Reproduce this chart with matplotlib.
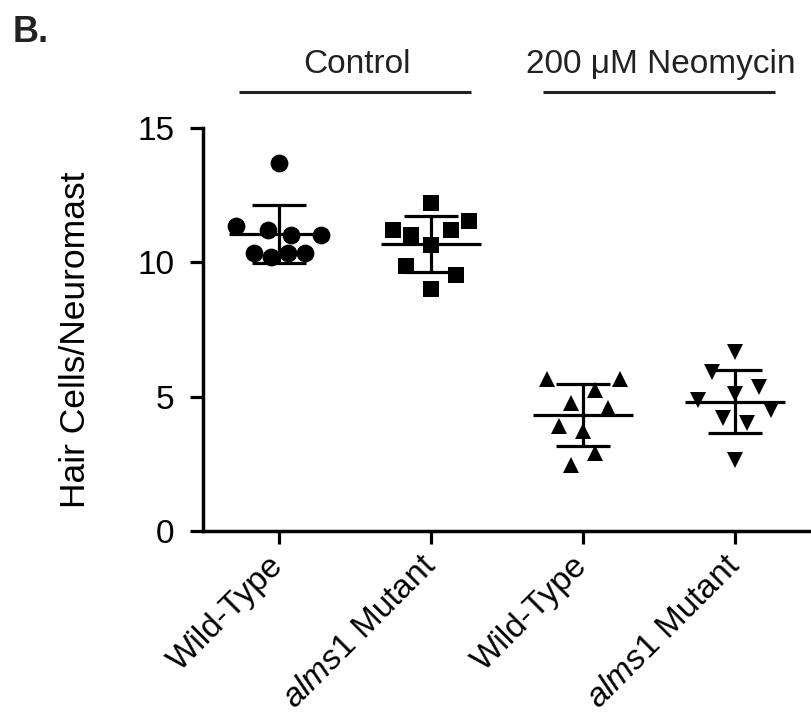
import numpy as np
import matplotlib
matplotlib.use("Agg")
import matplotlib.pyplot as plt
import matplotlib.transforms as mtransforms

plt.rcParams['font.family'] = ['Liberation Sans', 'DejaVu Sans']
plt.rcParams['mathtext.fontset'] = 'custom'
plt.rcParams['mathtext.it'] = 'Liberation Sans:italic'
plt.rcParams['mathtext.rm'] = 'Liberation Sans'

# values (hair cells per neuromast)
wt_ctrl = [13.70, 11.37, 11.20, 11.03, 11.00, 10.35, 10.20, 10.35, 10.35]
wt_ctrl_dx = [0.0, -0.283, -0.075, 0.079, 0.276, -0.162, -0.053, 0.061, 0.171]
mut_ctrl = [12.19, 11.53, 11.20, 11.03, 11.20, 10.66, 9.86, 9.51, 9.01]
mut_ctrl_dx = [0.0, 0.252, -0.252, -0.132, 0.132, 0.0, -0.164, 0.164, 0.0]
wt_neo = [5.64, 5.64, 5.24, 4.77, 4.58, 3.90, 3.71, 2.91, 2.44]
wt_neo_dx = [-0.237, 0.243, 0.081, -0.079, 0.162, -0.160, 0.0, 0.081, -0.079]
mut_neo = [6.67, 5.91, 5.37, 5.08, 4.89, 4.52, 4.21, 4.03, 2.66]
mut_neo_dx = [0.0, -0.153, 0.160, 0.0, -0.241, 0.237, -0.081, 0.079, 0.0]

groups = [wt_ctrl, mut_ctrl, wt_neo, mut_neo]
offsets = [wt_ctrl_dx, mut_ctrl_dx, wt_neo_dx, mut_neo_dx]
markers = ['o', 's', '^', 'v']
msizes = [12.8, 11.8, 12, 12]
tick_labels = ['Wild-Type', r'$\mathit{alms1}$ Mutant', 'Wild-Type', r'$\mathit{alms1}$ Mutant']
conditions = ['Control', '200 μM Neomycin']

fig = plt.figure(figsize=(8.12, 7.19), dpi=100)
ax = fig.add_axes([0.25, 0.2615, 0.7488, 0.5605])

lw = 2.3
for i, vals in enumerate(groups):
    vals = np.array(vals)
    xs = i + np.array(offsets[i])
    ax.plot(xs, vals, linestyle='none', marker=markers[i], markersize=msizes[i],
            color='black', markeredgewidth=0, zorder=2)
    m = vals.mean()
    sd = vals.std(ddof=1)
    ax.plot([i - 0.33, i + 0.33], [m, m], color='black', lw=lw, solid_capstyle='butt', zorder=3)
    ax.plot([i, i], [m - sd, m + sd], color='black', lw=lw, solid_capstyle='butt', zorder=3)
    ax.plot([i - 0.175, i + 0.175], [m + sd, m + sd], color='black', lw=lw, solid_capstyle='butt', zorder=3)
    ax.plot([i - 0.175, i + 0.175], [m - sd, m - sd], color='black', lw=lw, solid_capstyle='butt', zorder=3)

ax.set_xlim(-0.5, 3.5)
ax.set_ylim(0, 15)
ax.set_yticks([0, 5, 10, 15])
ax.set_xticks(range(4))
ax.set_xticklabels(tick_labels, rotation=45, ha='right', va='center', rotation_mode='anchor')
for s in ['top', 'right']:
    ax.spines[s].set_visible(False)
for s in ['left', 'bottom']:
    ax.spines[s].set_linewidth(2.5)
ax.tick_params(axis='y', length=9.5, width=2.3, pad=11, labelsize=24)
ax.tick_params(axis='x', length=9.5, width=2.3, pad=12, labelsize=24)
ax.set_ylabel('Hair Cells/Neuromast', fontsize=25.5)
ax.yaxis.set_label_coords(-0.183, 0.474)

# condition brackets above the plot
trans = mtransforms.blended_transform_factory(ax.transData, fig.transFigure)
for k, name in enumerate(conditions):
    c = 0.5 + 2 * k
    ax.plot([c - 0.76, c + 0.76], [0.872, 0.872], color='#222222', lw=2.2,
            transform=trans, clip_on=False, solid_capstyle='butt')
    ax.text(c + 0.01, 0.8985, name, transform=trans, ha='center', va='baseline',
            fontsize=24, color='#222222')

fig.text(0.015, 0.941, 'B.', fontsize=26, fontweight='bold', color='#222222')

fig.savefig('out.png', dpi=100)
